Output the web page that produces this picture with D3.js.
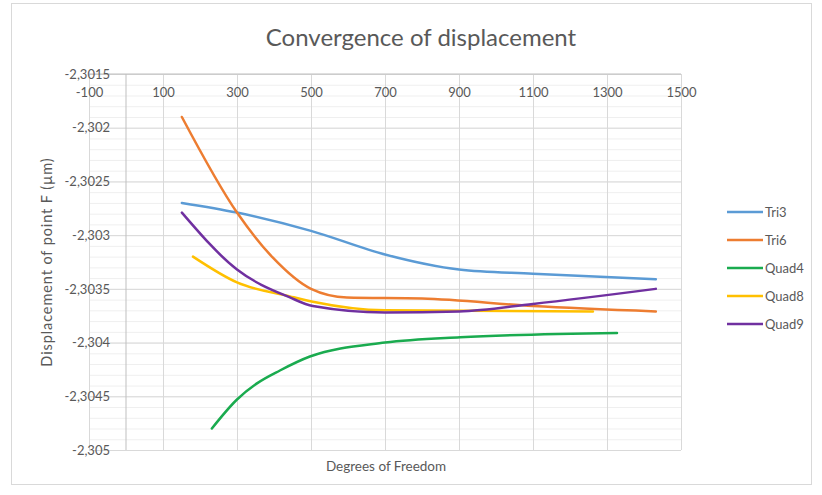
<!DOCTYPE html>
<html>
<head>
<meta charset="utf-8">
<script src="https://cdn.jsdelivr.net/npm/d3@7"></script>
<style>
  body { margin: 0; background: #fff; }
  text { font-family: Lato, "Open Sans", sans-serif; fill: #595959; }
</style>
</head>
<body>
<script>
// chart values
var seriesNames = ["Tri3", "Tri6", "Quad4", "Quad8", "Quad9"];
var seriesColors = ["#5b9bd5", "#ed7d31", "#1aab4f", "#ffc000", "#7030a0"];

var tri3 = [[151, -2.30270], [300, -2.30279], [500, -2.30296], [700, -2.30318],
            [900, -2.30332], [1100, -2.30336], [1432, -2.30341]];
var tri6 = [[151, -2.30190], [300, -2.30279], [397, -2.30321], [500, -2.30350],
            [597, -2.30358], [800, -2.30359], [1100, -2.30366], [1432, -2.30371]];
var quad4 = [[232, -2.30480], [300, -2.30453], [354, -2.30438], [416, -2.30426],
             [497, -2.30413], [700, -2.30400], [903, -2.30395], [1327, -2.30391]];
var quad8 = [[181, -2.30320], [300, -2.30344], [443, -2.30357], [505, -2.30362],
             [700, -2.30370], [1262, -2.30371]];
var quad9 = [[151, -2.30279], [300, -2.30332], [443, -2.30358], [505, -2.30366],
             [700, -2.30372], [900, -2.30371], [1100, -2.30364], [1432, -2.30350]];

var xTicks = [-100, 100, 300, 500, 700, 900, 1100, 1300, 1500];
var yTicks = [-2.3015, -2.302, -2.3025, -2.303, -2.3035, -2.304, -2.3045, -2.305];

var allSeries = [tri3, tri6, quad4, quad8, quad9];

var w = 822, h = 495;
// plot area edges (not "top": that name is taken by window.top)
var plotL = 89, plotR = 681, plotT = 74, plotB = 450;

var svg = d3.select("body").append("svg")
    .attr("width", w)
    .attr("height", h);

// chart border
svg.append("rect")
    .attr("x", 11.5).attr("y", 3.5)
    .attr("width", 800).attr("height", 481)
    .attr("fill", "none")
    .attr("stroke", "#d9d9d9");

var x = d3.scaleLinear().domain([-100, 1500]).range([plotL, plotR]);
var y = d3.scaleLinear().domain([-2.305, -2.3015]).range([plotB, plotT]);

// minor horizontal gridlines every 0.0001
var minor = d3.range(0, 36).map(function(i) { return -2.305 + i * 0.0001; });
svg.append("g")
    .attr("transform", "translate(" + plotL + ",0)")
    .call(d3.axisLeft(y).tickValues(minor).tickSize(-(plotR - plotL)).tickFormat(""))
    .call(function(g) { g.select(".domain").remove(); })
    .selectAll("line").attr("stroke", "#efefef");

// major horizontal gridlines
svg.append("g")
    .attr("transform", "translate(" + plotL + ",0)")
    .call(d3.axisLeft(y).tickValues(yTicks).tickSize(-(plotR - plotL)).tickFormat(""))
    .call(function(g) { g.select(".domain").remove(); })
    .selectAll("line").attr("stroke", "#d9d9d9");

// vertical gridlines
svg.append("g")
    .attr("transform", "translate(0," + plotB + ")")
    .call(d3.axisBottom(x).tickValues(xTicks).tickSize(-(plotB - plotT)).tickFormat(""))
    .call(function(g) { g.select(".domain").remove(); })
    .selectAll("line").attr("stroke", "#d9d9d9");

// vertical axis line crosses at x = 0
svg.append("line")
    .attr("x1", x(0)).attr("x2", x(0))
    .attr("y1", plotT).attr("y2", plotB)
    .attr("stroke", "#bfbfbf");

// horizontal axis line at the top
svg.append("line")
    .attr("x1", plotL).attr("x2", plotR)
    .attr("y1", plotT).attr("y2", plotT)
    .attr("stroke", "#bfbfbf");

var fmt = function(d) { return String(+d.toFixed(4)).replace(".", ","); };

// y tick labels
svg.append("g")
    .attr("transform", "translate(113,0)")
    .call(d3.axisLeft(y).tickValues(yTicks).tickSize(0).tickPadding(3).tickFormat(fmt))
    .call(function(g) { g.select(".domain").remove(); })
    .selectAll("text")
    .attr("font-size", 13)
    .style("font-family", "Lato, sans-serif")
    .attr("fill", "#595959");

// x tick labels, sitting under the top axis line
svg.append("g")
    .attr("transform", "translate(0," + plotT + ")")
    .call(d3.axisBottom(x).tickValues(xTicks).tickSize(0).tickPadding(14)
        .tickFormat(function(d) { return String(d); }))
    .call(function(g) { g.select(".domain").remove(); })
    .selectAll("text")
    .attr("font-size", 13)
    .style("font-family", "Lato, sans-serif")
    .attr("fill", "#595959");

// the lines (smoothed)
var line = d3.line()
    .x(function(d) { return x(d[0]); })
    .y(function(d) { return y(d[1]); })
    .curve(d3.curveMonotoneX);

svg.selectAll("path.series")
    .data(allSeries)
    .enter().append("path")
    .attr("class", "series")
    .attr("d", line)
    .attr("fill", "none")
    .attr("stroke", function(d, i) { return seriesColors[i]; })
    .attr("stroke-width", 2.5)
    .attr("stroke-linecap", "round");

// title
svg.append("text")
    .attr("x", 421).attr("y", 46)
    .attr("text-anchor", "middle")
    .attr("font-size", 24)
    .text("Convergence of displacement");

// axis titles
svg.append("text")
    .attr("x", 386).attr("y", 471)
    .attr("text-anchor", "middle")
    .attr("font-size", 13.5)
    .text("Degrees of Freedom");

svg.append("text")
    .attr("transform", "translate(52," + (plotT + plotB) / 2 + ") rotate(-90)")
    .attr("text-anchor", "middle")
    .attr("font-size", 14.5)
    .attr("letter-spacing", 0.9)
    .text("Displacement of point F (µm)");

// legend
var legend = svg.selectAll("g.legend")
    .data(seriesNames)
    .enter().append("g")
    .attr("class", "legend")
    .attr("transform", function(d, i) { return "translate(727," + (212 + i * 28) + ")"; });

legend.append("line")
    .attr("x1", 0).attr("x2", 36)
    .attr("stroke", function(d, i) { return seriesColors[i]; })
    .attr("stroke-width", 2.5);

legend.append("text")
    .attr("x", 38).attr("y", 4.5)
    .attr("font-size", 13)
    .text(function(d) { return d; });
</script>
</body>
</html>
